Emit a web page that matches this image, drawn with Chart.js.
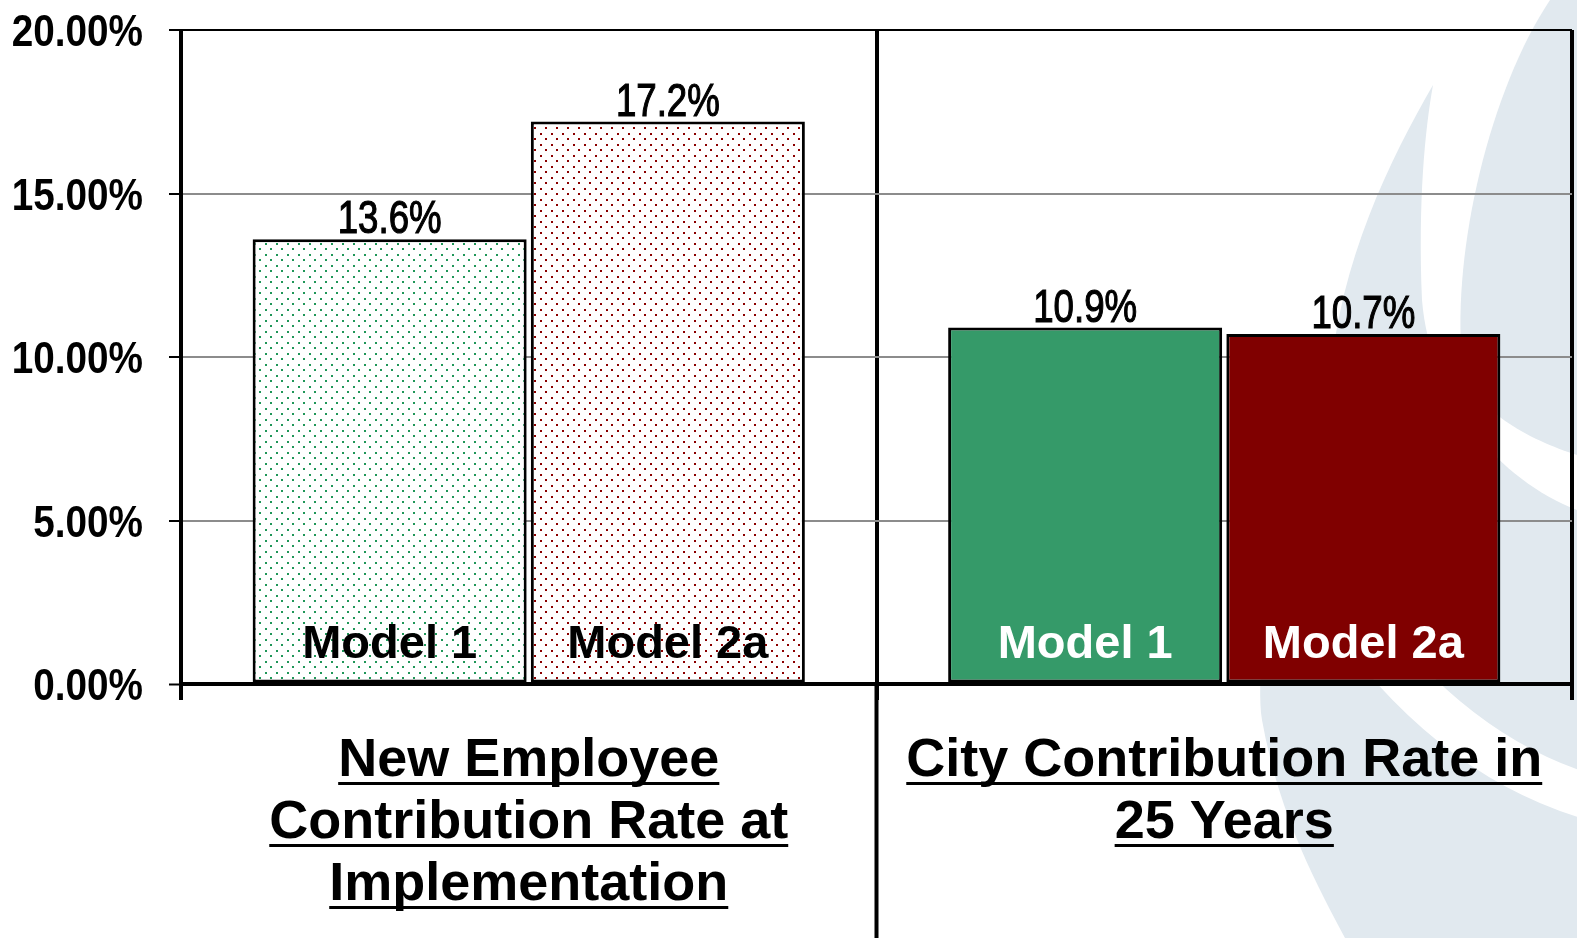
<!DOCTYPE html>
<html>
<head>
<meta charset="utf-8">
<script src="https://cdn.jsdelivr.net/npm/chart.js@4.4.1/dist/chart.umd.min.js"></script>
<style>
  html, body { margin: 0; padding: 0; background: #fff; }
  #wrap { width: 1577px; height: 938px; }
</style>
</head>
<body>
<div id="wrap"><canvas id="grafico"></canvas></div>
<script>
// Datos del gráfico
var categorias = [
    ["New Employee", "Contribution Rate at", "Implementation"],
    ["City Contribution Rate in", "25 Years"]
];
var nombresSeries = ["Model 1", "Model 2a"];
var valoresModel1 = [13.6, 10.9];
var valoresModel2a = [17.2, 10.7];
var ejeY = { min: 0, max: 20, paso: 5 };

var FUENTE = "'Liberation Sans', Arial, sans-serif";

// Patrón de puntos para las barras del primer grupo
function crearPatron(color) {
    var c = document.createElement('canvas');
    c.width = 11;
    c.height = 11;
    var p = c.getContext('2d');
    p.fillStyle = '#ffffff';
    p.fillRect(0, 0, 11, 11);
    p.fillStyle = color;
    p.fillRect(1, 1, 2, 2);
    p.fillRect(6, 6, 2, 2);
    return p.createPattern(c, 'repeat');
}

// Texto estrechado horizontalmente (con un trazo fino para darle cuerpo)
function textoEstrecho(ctx, txt, x, y, escala, align, grosor) {
    ctx.save();
    ctx.translate(x, y);
    ctx.scale(escala, 1);
    ctx.textAlign = align;
    ctx.fillText(txt, 0, 0);
    if (grosor) {
        ctx.lineWidth = grosor;
        ctx.strokeStyle = ctx.fillStyle;
        ctx.strokeText(txt, 0, 0);
    }
    ctx.restore();
}

// Fondo con el logo claro a la derecha
var fondoLogo = {
    id: 'fondoLogo',
    beforeDraw: function (chart) {
        var ctx = chart.ctx;
        ctx.save();
        ctx.fillStyle = '#ffffff';
        ctx.fillRect(0, 0, chart.width, chart.height);
        ctx.fillStyle = '#e1e9ef';
        // banda superior derecha
        ctx.beginPath();
        ctx.moveTo(1550, 0);
        ctx.bezierCurveTo(1490, 90, 1452, 250, 1462, 360);
        ctx.bezierCurveTo(1470, 410, 1530, 440, 1577, 455);
        ctx.lineTo(1577, 0);
        ctx.closePath();
        ctx.fill();
        // forma grande
        ctx.beginPath();
        ctx.moveTo(1433, 85);
        ctx.bezierCurveTo(1390, 160, 1340, 260, 1330, 380);
        ctx.bezierCurveTo(1290, 500, 1252, 640, 1262, 720);
        ctx.bezierCurveTo(1280, 820, 1320, 890, 1345, 938);
        ctx.lineTo(1577, 938);
        ctx.lineTo(1577, 510);
        ctx.bezierCurveTo(1500, 480, 1430, 400, 1422, 300);
        ctx.bezierCurveTo(1418, 200, 1425, 130, 1433, 85);
        ctx.closePath();
        ctx.fill();
        // arco blanco inferior
        ctx.strokeStyle = '#ffffff';
        ctx.lineWidth = 45;
        ctx.beginPath();
        ctx.moveTo(1340, 600);
        ctx.quadraticCurveTo(1450, 760, 1600, 800);
        ctx.stroke();
        ctx.restore();
    }
};

// Etiquetas de valor y nombre del modelo en cada barra
var etiquetasBarras = {
    id: 'etiquetasBarras',
    afterDatasetsDraw: function (chart) {
        var ctx = chart.ctx;
        var area = chart.chartArea;
        ctx.save();
        chart.data.datasets.forEach(function (ds, i) {
            var meta = chart.getDatasetMeta(i);
            meta.data.forEach(function (bar, j) {
                ctx.fillStyle = '#000';
                ctx.textBaseline = 'alphabetic';
                ctx.font = '47px ' + FUENTE;
                textoEstrecho(ctx, ds.data[j].toFixed(1) + '%', bar.x, bar.y - 6, 0.78, 'center', 1.2);
                ctx.font = 'bold 47px ' + FUENTE;
                ctx.fillStyle = j === 0 ? '#000' : '#fff';
                ctx.textAlign = 'center';
                ctx.fillText(ds.label, bar.x, area.bottom - 26);
            });
        });
        ctx.restore();
    }
};

// Ejes: etiquetas del eje Y, categorías subrayadas y separador central
var etiquetasEjes = {
    id: 'etiquetasEjes',
    afterDraw: function (chart) {
        var ctx = chart.ctx;
        var area = chart.chartArea;
        var x = chart.scales.x;
        var y = chart.scales.y;
        ctx.save();
        ctx.fillStyle = '#000';
        ctx.textBaseline = 'alphabetic';
        ctx.font = 'bold 44px ' + FUENTE;
        for (var v = ejeY.min; v <= ejeY.max; v += ejeY.paso) {
            textoEstrecho(ctx, v.toFixed(2) + '%', area.left - 38, y.getPixelForValue(v) + 16, 0.88, 'right');
        }

        ctx.font = 'bold 54px ' + FUENTE;
        ctx.textAlign = 'center';
        categorias.forEach(function (lineas, i) {
            var cx = x.getPixelForValue(i);
            lineas.forEach(function (linea, k) {
                var base = area.bottom + 92 + k * 62;
                ctx.fillText(linea, cx, base);
                var w = ctx.measureText(linea).width;
                ctx.fillRect(cx - w / 2, base + 6, w, 3);
            });
        });

        // separador entre grupos hasta el final del lienzo
        var xm = (x.getPixelForValue(0) + x.getPixelForValue(1)) / 2;
        ctx.strokeStyle = '#000';
        ctx.lineWidth = 4;
        ctx.beginPath();
        ctx.moveTo(xm, area.bottom);
        ctx.lineTo(xm, chart.height);
        ctx.stroke();
        ctx.restore();
    }
};

var colores = {
    "Model 1": { puntos: '#1f9658', solido: '#359a69' },
    "Model 2a": { puntos: '#8b0000', solido: '#800000' }
};

var ctx = document.getElementById('grafico').getContext('2d');

var datasets = nombresSeries.map(function (nombre, i) {
    return {
        label: nombre,
        data: i === 0 ? valoresModel1 : valoresModel2a,
        backgroundColor: [crearPatron(colores[nombre].puntos), colores[nombre].solido],
        borderColor: '#000',
        borderWidth: 3,
        borderSkipped: false,
        categoryPercentage: 0.8,
        barPercentage: 0.985
    };
});

var grafico = new Chart(ctx, {
    type: 'bar',
    data: { labels: categorias, datasets: datasets },
    options: {
        responsive: true,
        maintainAspectRatio: false,
        animation: false,
        layout: { padding: { top: 30, right: 5, left: 0, bottom: 0 } },
        plugins: {
            legend: { display: false },
            tooltip: { enabled: false }
        },
        scales: {
            x: {
                offset: true,
                ticks: { display: false },
                grid: {
                    color: '#000',
                    lineWidth: 4,
                    tickLength: 16,
                    tickColor: '#000'
                },
                border: { display: true, color: '#000', width: 4 },
                afterFit: function (scale) { scale.height = 254; }
            },
            y: {
                min: ejeY.min,
                max: ejeY.max,
                ticks: { display: false, stepSize: ejeY.paso },
                grid: {
                    color: function (c) {
                        var v = c.tick ? c.tick.value : null;
                        return (v === ejeY.min || v === ejeY.max) ? '#000' : '#8c8c8c';
                    },
                    lineWidth: function (c) {
                        return (c.tick && c.tick.value === ejeY.min) ? 3 : 2;
                    },
                    tickLength: 12,
                    tickColor: '#000',
                    tickWidth: 2
                },
                border: { display: true, color: '#000', width: 3 },
                afterFit: function (scale) { scale.width = 181; }
            }
        }
    },
    plugins: [fondoLogo, etiquetasBarras, etiquetasEjes]
});
</script>
</body>
</html>
